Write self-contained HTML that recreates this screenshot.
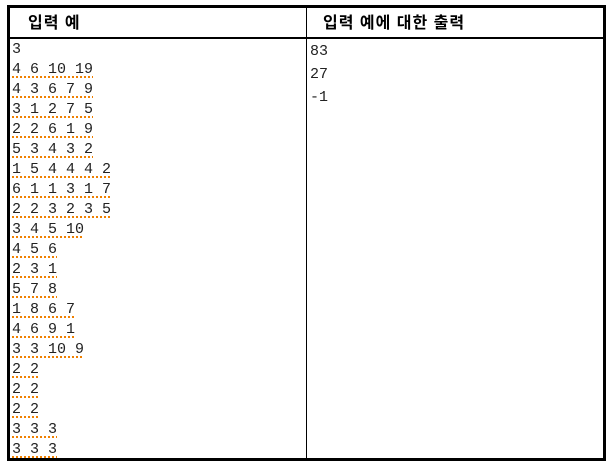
<!DOCTYPE html>
<html><head><meta charset="utf-8"><style>
body{margin:0;background:#fff;width:612px;height:470px;position:relative;overflow:hidden}
#tbl{position:absolute;left:7px;top:5px;width:593px;height:450px;border:3px solid #000;}
.hdr{position:absolute;top:0;height:31px;border-bottom:2px solid #000;font:bold 16px "Liberation Sans","Noto Sans CJK KR",sans-serif;line-height:31px;letter-spacing:1px}
.col{position:absolute;top:32px;font:15px/20px "Liberation Mono","DejaVu Sans Mono",monospace;color:#222;white-space:pre}
.u{text-decoration:underline dotted #f08000 2px;text-underline-offset:3px}
#div{position:absolute;left:296px;top:0;width:1px;height:100%;background:#000}
</style></head><body>
<div id="tbl">
<div class="hdr" style="left:0;width:296px;padding-left:18px;box-sizing:border-box">입력 예</div>
<div class="hdr" style="left:297px;width:296px;padding-left:16px;box-sizing:border-box">입력 예에 대한 출력</div>
<div id="div"></div>
<div class="col" style="left:2px">3
<span class="u">4 6 10 19</span>
<span class="u">4 3 6 7 9</span>
<span class="u">3 1 2 7 5</span>
<span class="u">2 2 6 1 9</span>
<span class="u">5 3 4 3 2</span>
<span class="u">1 5 4 4 4 2</span>
<span class="u">6 1 1 3 1 7</span>
<span class="u">2 2 3 2 3 5</span>
<span class="u">3 4 5 10</span>
<span class="u">4 5 6</span>
<span class="u">2 3 1</span>
<span class="u">5 7 8</span>
<span class="u">1 8 6 7</span>
<span class="u">4 6 9 1</span>
<span class="u">3 3 10 9</span>
<span class="u">2 2</span>
<span class="u">2 2</span>
<span class="u">2 2</span>
<span class="u">3 3 3</span>
<span class="u">3 3 3</span></div>
<div class="col" style="left:300px;line-height:23px">83
27
-1</div>
</div>
</body></html>
